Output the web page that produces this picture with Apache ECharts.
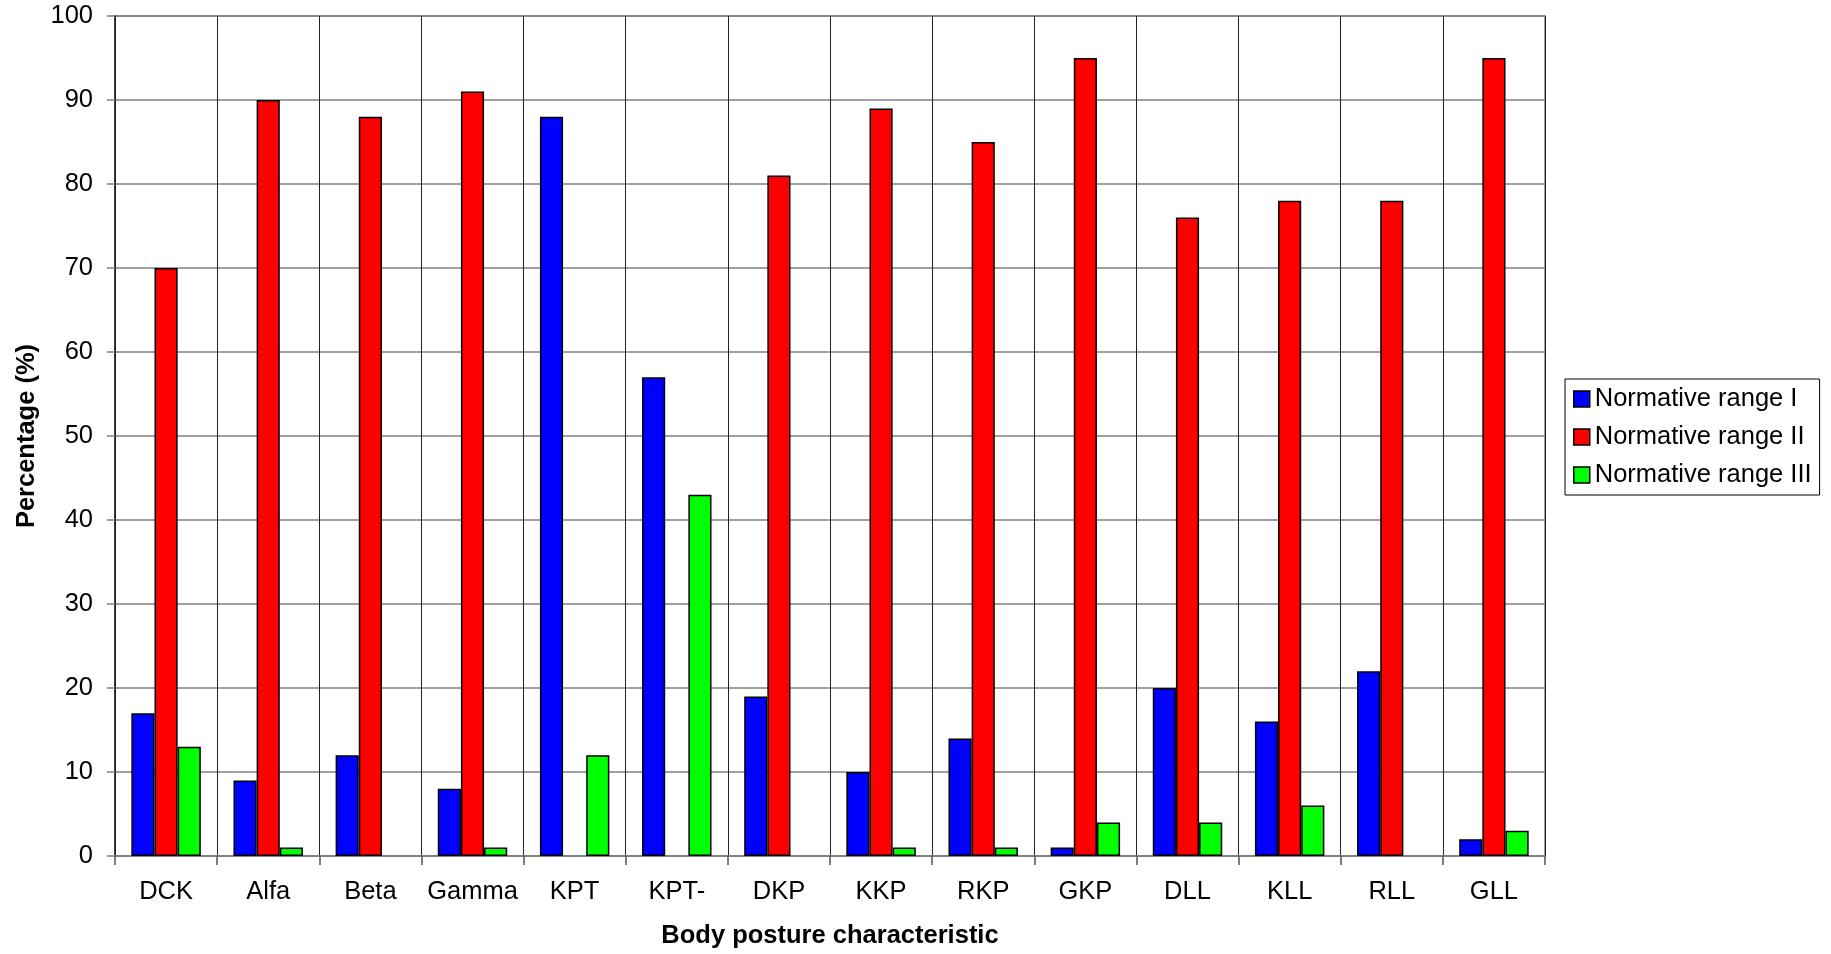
<!DOCTYPE html>
<html>
<head>
<meta charset="utf-8">
<script src="https://cdn.jsdelivr.net/npm/echarts@6/dist/echarts.min.js"></script>
<style>
  html, body { margin: 0; padding: 0; background: #fff; }
  #chart { width: 1831px; height: 954px; }
</style>
</head>
<body>
<div id="chart"></div>
<script>
// Body posture characteristics on the category axis
const categories = ['DCK', 'Alfa', 'Beta', 'Gamma', 'KPT', 'KPT-', 'DKP', 'KKP', 'RKP', 'GKP', 'DLL', 'KLL', 'RLL', 'GLL'];

// Percentage of subjects in each normative range
const rangeI   = [17,  9, 12,  8, 88, 57, 19, 10, 14,  1, 20, 16, 22,  2];
const rangeII  = [70, 90, 88, 91,  0,  0, 81, 89, 85, 95, 76, 78, 78, 95];
const rangeIII = [13,  1,  0,  1, 12, 43,  0,  1,  1,  4,  4,  6,  0,  3];

const seriesNames = ['Normative range I', 'Normative range II', 'Normative range III'];
const seriesColors = ['#0000ff', '#ff0000', '#00ff00'];

const yTicks = { min: 0, max: 100, interval: 10 };

const FONT = "'Liberation Sans', Arial, sans-serif";
const FS = 25.5;

// Zero values are left empty so no flat bar is drawn
const asBars = arr => arr.map(v => (v === 0 ? null : v));

const chart = echarts.init(document.getElementById('chart'), null, { renderer: 'canvas' });

chart.setOption({
  animation: false,
  textStyle: { fontFamily: FONT, color: '#000' },
  grid: {
    left: 115, top: 16, width: 1430, height: 841,
    show: true, borderColor: '#808080', borderWidth: 1.5, backgroundColor: 'transparent'
  },
  legend: {
    orient: 'vertical',
    left: 1565, top: 379,
    padding: [7, 8, 7, 8],
    icon: 'rect',
    itemWidth: 16, itemHeight: 16, itemGap: 12,
    borderColor: '#000', borderWidth: 1,
    textStyle: { fontFamily: FONT, fontSize: FS, color: '#000', padding: [0, 0, 0, 0] },
    itemStyle: { borderColor: '#000', borderWidth: 1.5 },
    data: seriesNames
  },
  xAxis: {
    type: 'category',
    data: categories,
    boundaryGap: true,
    name: 'Body posture characteristic',
    nameLocation: 'middle',
    nameGap: 67,
    nameTextStyle: { fontFamily: FONT, fontSize: FS, fontWeight: 'bold', color: '#000' },
    axisLine: { show: true, lineStyle: { color: '#808080', width: 1.5 } },
    axisTick: { show: true, length: 9, interval: 0, lineStyle: { color: '#555', width: 1.5 } },
    axisLabel: { fontFamily: FONT, fontSize: FS, color: '#000', margin: 23, interval: 0 },
    splitLine: { show: true, interval: 0, lineStyle: { color: '#222', width: 1 } }
  },
  yAxis: {
    type: 'value',
    min: yTicks.min, max: yTicks.max, interval: yTicks.interval,
    name: 'Percentage (%)',
    nameLocation: 'middle',
    nameGap: 75,
    nameRotate: 90,
    nameTextStyle: { fontFamily: FONT, fontSize: FS, fontWeight: 'bold', color: '#000' },
    axisLine: { show: true, lineStyle: { color: '#222', width: 1.5 } },
    axisTick: { show: true, length: 8, lineStyle: { color: '#808080', width: 1.5 } },
    axisLabel: { fontFamily: FONT, fontSize: FS, color: '#000', margin: 22 },
    splitLine: { show: true, lineStyle: { color: '#808080', width: 1.5 } }
  },
  series: [rangeI, rangeII, rangeIII].map((values, i) => ({
    name: seriesNames[i],
    type: 'bar',
    data: asBars(values),
    barGap: '0%',
    barCategoryGap: '32%',
    itemStyle: { color: seriesColors[i], borderColor: '#000', borderWidth: 1.5 }
  }))
});
</script>
</body>
</html>
